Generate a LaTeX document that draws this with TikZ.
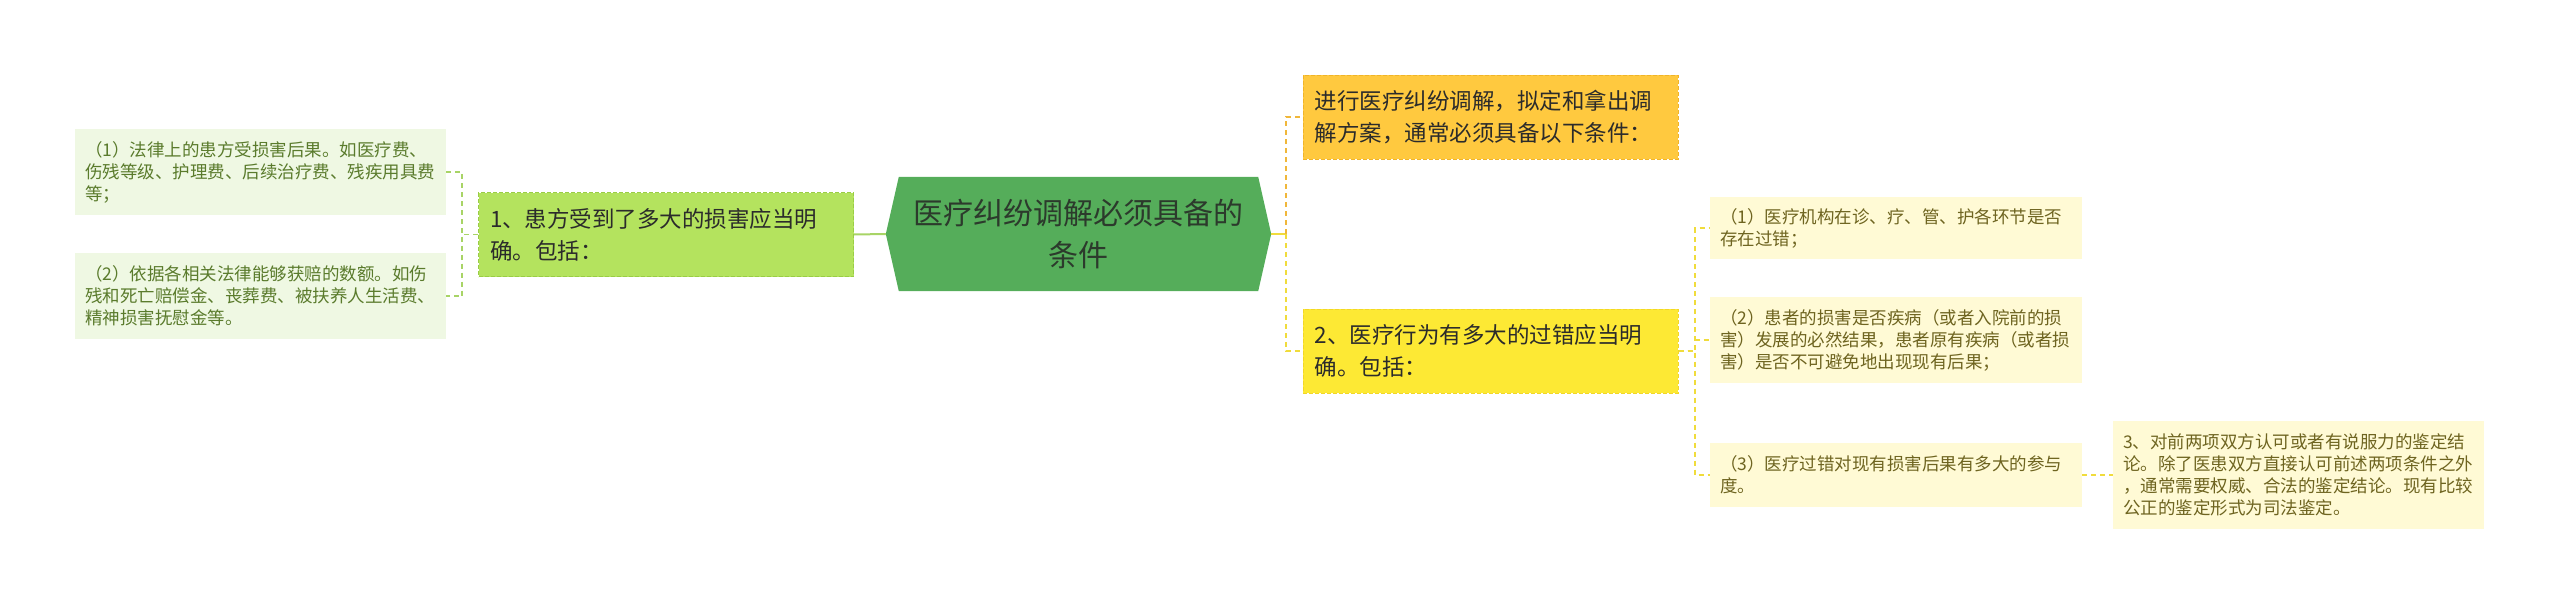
\documentclass[tikz,border=0pt]{standalone}
\usepackage{fontspec}
\setmainfont{Noto Sans CJK SC}
\usetikzlibrary{backgrounds}
\definecolor{rootfill}{HTML}{55AD5A}
\definecolor{roottext}{HTML}{2C3A2C}
\definecolor{nonefill}{HTML}{B4E35E}
\definecolor{noneline}{HTML}{9ACD45}
\definecolor{orfill}{HTML}{FFC93F}
\definecolor{orline}{HTML}{F0B429}
\definecolor{yefill}{HTML}{FDE934}
\definecolor{yeline}{HTML}{F2D728}
\definecolor{lgfill}{HTML}{EFF8E3}
\definecolor{lgtext}{HTML}{5A7B2C}
\definecolor{lyfill}{HTML}{FFFAD5}
\definecolor{lytext}{HTML}{6E6420}
\definecolor{gconn}{HTML}{A8D466}
\definecolor{oconn}{HTML}{F0B73A}
\definecolor{yconn}{HTML}{F0DC3C}
\definecolor{darktext}{HTML}{2B2B2B}
\begin{document}
\begin{tikzpicture}[x=1pt,y=-1pt,
  rootbox/.style={minimum width=385pt,minimum height=114pt,inner sep=0pt,align=center,text=roottext,font=\fontsize{30}{42}\selectfont},
  mainbox/.style={draw,dashed,dash pattern=on 4pt off 2pt,line width=1pt,text width=352pt,inner xsep=11.5pt,inner ysep=0pt,minimum height=84pt,align=left,text=darktext,font=\fontsize{22.5}{32}\selectfont},
  leafg/.style={fill=lgfill,text=lgtext,text width=351pt,inner xsep=10pt,inner ysep=0pt,align=left,font=\fontsize{17.5}{22}\selectfont},
  leafy/.style={fill=lyfill,text=lytext,text width=352pt,inner xsep=10pt,inner ysep=0pt,align=left,font=\fontsize{17.5}{22}\selectfont},
  conn/.style={line width=1.6pt,dash pattern=on 5pt off 4pt},
  solidconn/.style={line width=2pt}
]
\useasboundingbox (0,0) rectangle (2560,605);

% root
\node[rootbox] (root) at (1078.5,234) {医疗纠纷调解必须具备的\\条件};
\begin{scope}[on background layer]
\fill[rootfill] (root.west) -- ([xshift=13pt]root.north west) -- ([xshift=-13pt]root.north east)
  -- (root.east) -- ([xshift=-13pt]root.south east) -- ([xshift=13pt]root.south west) -- cycle;
\end{scope}

% left branch
\node[mainbox,fill=nonefill,draw=noneline] (n1) at (666,234.5) {1、患方受到了多大的损害应当明\\确。包括：};
\node[leafg,minimum height=86pt] (l1) at (260.5,172) {（1）法律上的患方受损害后果。如医疗费、\\伤残等级、护理费、后续治疗费、残疾用具费\\等；};
\node[leafg,minimum height=86pt] (l2) at (260.5,296) {（2）依据各相关法律能够获赔的数额。如伤\\残和死亡赔偿金、丧葬费、被扶养人生活费、\\精神损害抚慰金等。};

% right branch
\node[mainbox,fill=orfill,draw=orline] (n0) at (1490.5,117) {进行医疗纠纷调解，拟定和拿出调\\解方案，通常必须具备以下条件：};
\node[mainbox,fill=yefill,draw=yeline] (n2) at (1490.5,351) {2、医疗行为有多大的过错应当明\\确。包括：};

\node[leafy,minimum height=62pt] (ra) at (1896,228) {（1）医疗机构在诊、疗、管、护各环节是否\\存在过错；};
\node[leafy,minimum height=86pt] (rb) at (1896,340) {（2）患者的损害是否疾病（或者入院前的损\\害）发展的必然结果，患者原有疾病（或者损\\害）是否不可避免地出现现有后果；};
\node[leafy,minimum height=64pt] (rc) at (1896,475) {（3）医疗过错对现有损害后果有多大的参与\\度。};
\node[leafy,text width=351pt,minimum height=108pt] (rd) at (2298.5,475) {3、对前两项双方认可或者有说服力的鉴定结\\论。除了医患双方直接认可前述两项条件之外\\，通常需要权威、合法的鉴定结论。现有比较\\公正的鉴定形式为司法鉴定。};

% junction points
\coordinate (jl) at (462,234.5);
\coordinate (jr) at (1286,234);
\coordinate (j2) at (1695,351);

% connectors
\draw[solidconn,gconn] (root.west) -- (n1.east);
\draw[conn,gconn] (n1.west) -- (jl) |- (l1.east);
\draw[conn,gconn] (n1.west) -- (jl) |- (l2.east);

\draw[solidconn,yconn] (root.east) -- (jr);
\draw[conn,oconn] (jr) |- (n0.west);
\draw[conn,yconn] (jr) |- (n2.west);

\draw[conn,yconn] (n2.east) -- (j2) |- (ra.west);
\draw[conn,yconn] (n2.east) -- (j2) |- (rb.west);
\draw[conn,yconn] (n2.east) -- (j2) |- (rc.west);
\draw[conn,yconn] (rc.east) -- (rd.west);
\end{tikzpicture}
\end{document}
